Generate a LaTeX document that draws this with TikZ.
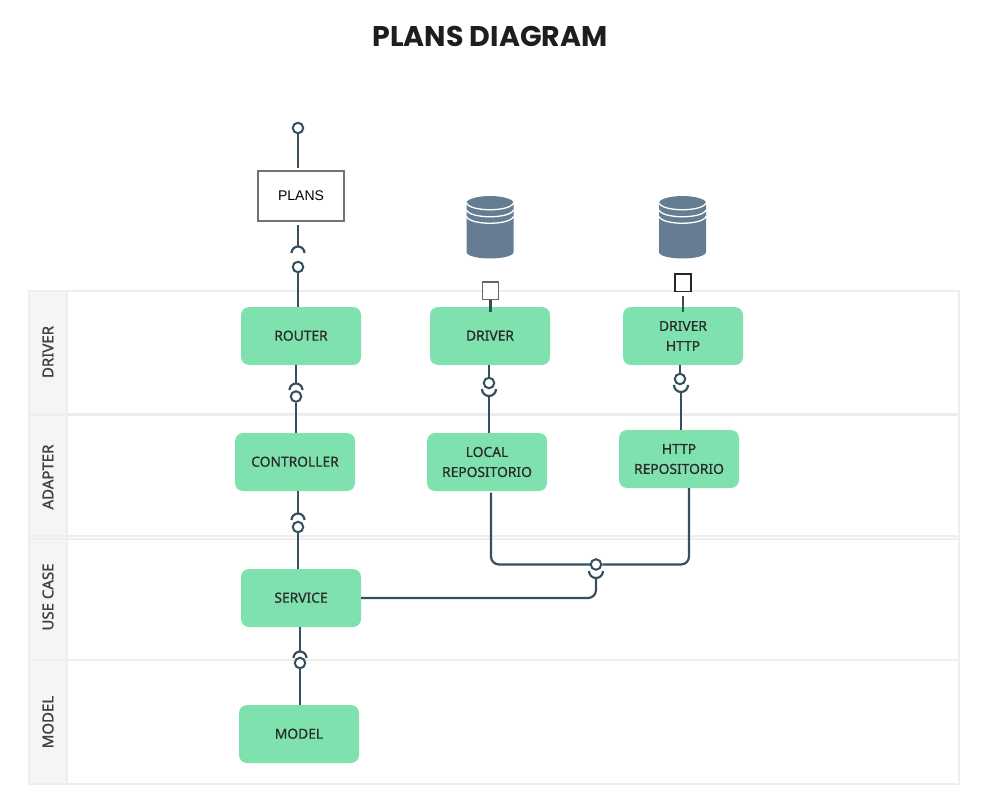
\documentclass[tikz,border=0pt]{standalone}
\usepackage{fontspec}
\usetikzlibrary{calc}
\setmainfont{Liberation Sans}
\newfontfamily\boxfont[FakeBold=0.7]{Noto Sans}
\newfontfamily\lanefont[FakeBold=1.3]{Noto Sans}
\newfontfamily\titlefont{Poppins}
\definecolor{lanegray}{HTML}{EEEEEE}
\definecolor{headgray}{HTML}{F5F5F5}
\definecolor{boxgreen}{HTML}{7FE2AE}
\definecolor{wire}{HTML}{34505F}
\definecolor{dbblue}{HTML}{667C92}
\definecolor{txt}{HTML}{2B2B2B}
\tikzset{
  x=1pt,y=-1pt,
  lane/.style={draw=lanegray,line width=2.6pt},
  head/.style={draw=lanegray,line width=2.6pt,fill=headgray},
  lanelabel/.style={rotate=90,font=\lanefont\fontsize{15}{15}\selectfont,text=txt!90!white},
  greenbox/.style={fill=boxgreen,rounded corners=8pt,minimum width=120pt,minimum height=58pt,inner sep=0pt,align=center,text=txt,font=\boxfont\fontsize{13.8}{20}\selectfont},
  plainbox/.style={draw=black!55,line width=1.4pt,fill=white,minimum width=86pt,minimum height=50pt,inner sep=0pt,font=\fontsize{14}{15}\selectfont},
  portbox/.style={draw=black!60,line width=1.5pt,fill=white,minimum width=16pt,minimum height=17.5pt,inner sep=0pt},
  ball/.style={circle,draw=wire,line width=2pt,fill=white,minimum size=10.5pt,inner sep=0pt},
  conn/.style={draw=wire,line width=2.2pt},
}
\newcommand{\cuptop}[1]{\draw[conn] (#1) ++(-6.5pt,0) arc[start angle=180,end angle=0,radius=6.5pt];}
\newcommand{\cupbot}[1]{\draw[conn] (#1) ++(-7pt,0) arc[start angle=180,end angle=360,radius=7pt];}
\newcommand{\database}[1]{%
  \begin{scope}[shift={(#1,0)}]
    \fill[dbblue] (-23.5,203) -- (-23.5,252) .. controls (-23.5,256) and (-12,258.5) .. (0,258.5)
      .. controls (12,258.5) and (23.5,256) .. (23.5,252) -- (23.5,203)
      .. controls (23.5,199) and (12,196) .. (0,196) .. controls (-12,196) and (-23.5,199) .. (-23.5,203) -- cycle;
    \draw[white,line width=1.3pt] (-23.5,203) .. controls (-20,212) and (20,212) .. (23.5,203);
    \draw[white,line width=1.3pt] (-23.5,210) .. controls (-20,219) and (20,219) .. (23.5,210);
    \draw[white,line width=1.3pt] (-23.5,216.5) .. controls (-20,225.5) and (20,225.5) .. (23.5,216.5);
  \end{scope}}
\begin{document}
\begin{tikzpicture}
\useasboundingbox (0,0) rectangle (985,805);
\node[text=txt!70!black,font=\titlefont\bfseries\fontsize{28.5}{30}\selectfont] (title) at (490,36) {PLANS DIAGRAM};
% lanes
\draw[lane] (29,291) rectangle (959,784);
\draw[head] (29,291) rectangle (67,784);
\draw[lane] (29,414.5) -- (959,414.5);
\draw[lane] (29,536) -- (959,536);
\draw[lane] (29,539) -- (959,539);
\draw[lane] (29,660) -- (959,660);
\node[lanelabel] (l1) at (48,352) {DRIVER};
\node[lanelabel] (l2) at (48,477) {ADAPTER};
\node[lanelabel] (l3) at (48,597) {USE CASE};
\node[lanelabel] (l4) at (48,722) {MODEL};
% databases
\database{490}
\database{682.5}
% boxes
\node[plainbox] (plans) at (301,196) {PLANS};
\node[greenbox] (router) at (301,336) {\raisebox{0.7pt}{ROUTER}};
\node[greenbox] (driver) at (490,336) {\raisebox{0.7pt}{DRIVER}};
\node[greenbox] (driverhttp) at (683,336) {DRIVER\\HTTP};
\node[greenbox] (controller) at (295,462) {\raisebox{0.7pt}{CONTROLLER}};
\node[greenbox] (local) at (487,462) {LOCAL\\REPOSITORIO};
\node[greenbox] (http) at (679,459) {HTTP\\REPOSITORIO};
\node[greenbox] (service) at (301,598) {\raisebox{0.7pt}{SERVICE}};
\node[greenbox] (model) at (299,734) {\raisebox{0.7pt}{MODEL}};
\node[portbox] (p1) at (490.5,290.5) {};
\node[portbox,draw=black!85] (p2) at (683,282.5) {};
% lollipop balls
\node[ball] (b0) at (298,128) {};
\node[ball] (b1) at (298,267) {};
\node[ball] (b2) at (296,396.5) {};
\node[ball] (b3) at (298,527) {};
\node[ball] (b4) at (300,663) {};
\node[ball] (b5) at (489,383) {};
\node[ball] (b6) at (680,379) {};
\node[ball] (b7) at (596,564.5) {};
\coordinate (s1) at (298,253);
\coordinate (s2) at (296,390);
\coordinate (s3) at (298,520);
\coordinate (s4) at (300,658);
\coordinate (s5) at (489,389);
\coordinate (s6) at (681,385);
\coordinate (s7) at (596,571);
\coordinate (c1) at (491,564.5);
\coordinate (c2) at (689,564.5);
\coordinate (c3) at (596,598);
% wires
\draw[conn,shorten >=2.5pt] (b0) -- (b0 |- plans.north);
\draw[conn,shorten <=3.5pt] (s1 |- plans.south) -- ($(s1)+(0,-6.5)$);
\cuptop{s1}
\draw[conn] (b1) -- (b1 |- router.north);
\draw[conn] (s2 |- router.south) -- ($(s2)+(0,-6.5)$);
\cuptop{s2}
\draw[conn] (b2) -- (b2 |- controller.north);
\draw[conn] (s3 |- controller.south) -- ($(s3)+(0,-6.5)$);
\cuptop{s3}
\draw[conn] (b3) -- (b3 |- service.north);
\draw[conn] (s4 |- service.south) -- ($(s4)+(0,-6.5)$);
\cuptop{s4}
\draw[conn] (b4) -- (b4 |- model.north);
\draw[conn] (b5) -- (b5 |- driver.south);
\draw[conn] ($(s5)+(0,7)$) -- (s5 |- local.north);
\cupbot{s5}
\draw[conn] (b6) -- (b6 |- driverhttp.south);
\draw[conn] ($(s6)+(0,7)$) -- (s6 |- http.north);
\cupbot{s6}
\draw[conn,rounded corners=8pt,shorten <=1.5pt] (c1 |- local.south) -- (c1) -- (b7);
\draw[conn,rounded corners=8pt] (c2 |- http.south) -- (c2) -- (b7);
\cupbot{s7}
\draw[conn,rounded corners=8pt] ($(s7)+(0,7)$) -- (c3) -- (c3 -| service.east);
\draw[conn] (p1.south) -- ($(p1.south |- driver.north)+(0,5)$);
\draw[conn,shorten <=3.5pt] (p2.south) -- ($(p2.south |- driverhttp.north)+(0,5)$);
\end{tikzpicture}
\end{document}
